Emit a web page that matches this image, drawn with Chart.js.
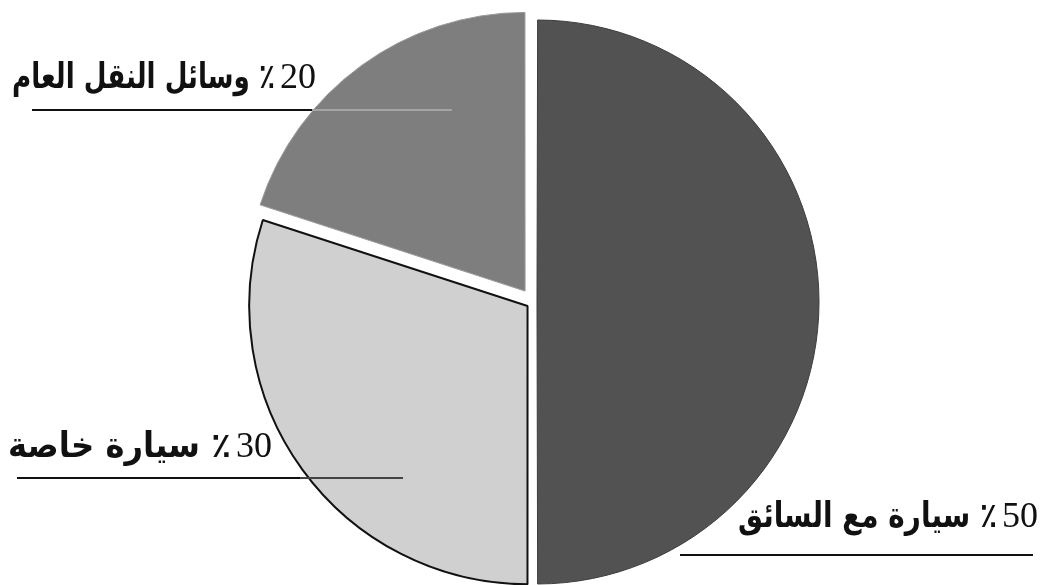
<!DOCTYPE html>
<html>
<head>
<meta charset="utf-8">
<script src="https://cdn.jsdelivr.net/npm/chart.js@4"></script>
<style>
  html, body { margin: 0; padding: 0; background: #fff; overflow: hidden; }
  #wrap { width: 1044px; height: 585px; }
</style>
</head>
<body>
<div id="wrap"><canvas id="myChart" width="1044" height="585"></canvas></div>
<script>
// data, clockwise from 12 o'clock
const categories = ['سيارة مع السائق', 'سيارة خاصة', 'وسائل النقل العام'];
const shares = [50, 30, 20];
const sliceColors = ['#525252', '#d0d0d0', '#7e7e7e'];

// where each label sits (same order as categories)
const labelBoxes = [
  { left: 738, right: 1038, base: 527, lineY: 555, lines: [[680, 1033, '#111']] },
  { left: 8, right: 272, base: 457, lineY: 478, lines: [[17, 300, '#111'], [300, 403, '#444']] },
  { left: 12, right: 316, base: 88, lineY: 110, lines: [[32, 312, '#111'], [312, 452, '#a4a4a4']] }
];

const labelPlugin = {
  id: 'sliceLabels',
  afterDraw(chart) {
    const ctx = chart.ctx;
    ctx.save();
    labelBoxes.forEach(function(box, i) {
      // number part
      ctx.direction = 'ltr';
      ctx.textAlign = 'right';
      ctx.textBaseline = 'alphabetic';
      ctx.fillStyle = '#111';
      ctx.font = '36px "Liberation Serif"';
      let num = String(shares[i]);
      ctx.fillText(num, box.right, box.base);
      let w = ctx.measureText(num).width;

      // arabic part
      let txt = '٪ ' + categories[i];
      let xr = box.right - w - 5;
      ctx.direction = 'rtl';
      ctx.textAlign = 'right';
      ctx.font = 'bold 35px "DejaVu Sans", sans-serif';
      ctx.fillText(txt, xr, box.base, xr - box.left);

      // underline
      ctx.lineWidth = 2;
      box.lines.forEach(function(l) {
        ctx.strokeStyle = l[2];
        ctx.beginPath();
        ctx.moveTo(l[0], box.lineY);
        ctx.lineTo(l[1], box.lineY);
        ctx.stroke();
      });
    });
    ctx.restore();
  }
};

document.addEventListener('DOMContentLoaded', function() {
  let ctx = document.getElementById('myChart').getContext('2d');
  new Chart(ctx, {
    type: 'pie',
    data: {
      labels: categories,
      datasets: [{
        data: shares,
        backgroundColor: sliceColors,
        borderColor: ['#3c3c3c', '#111111', '#9a9a9a'],
        borderWidth: [1, 2, 1],
        offset: [16, 27, 54]
      }]
    },
    options: {
      responsive: false,
      animation: false,
      radius: 278,
      layout: { padding: { left: 22, right: 0, top: 19, bottom: 0 } },
      plugins: {
        legend: { display: false },
        tooltip: { enabled: false }
      }
    },
    plugins: [labelPlugin]
  });
});
</script>
</body>
</html>
